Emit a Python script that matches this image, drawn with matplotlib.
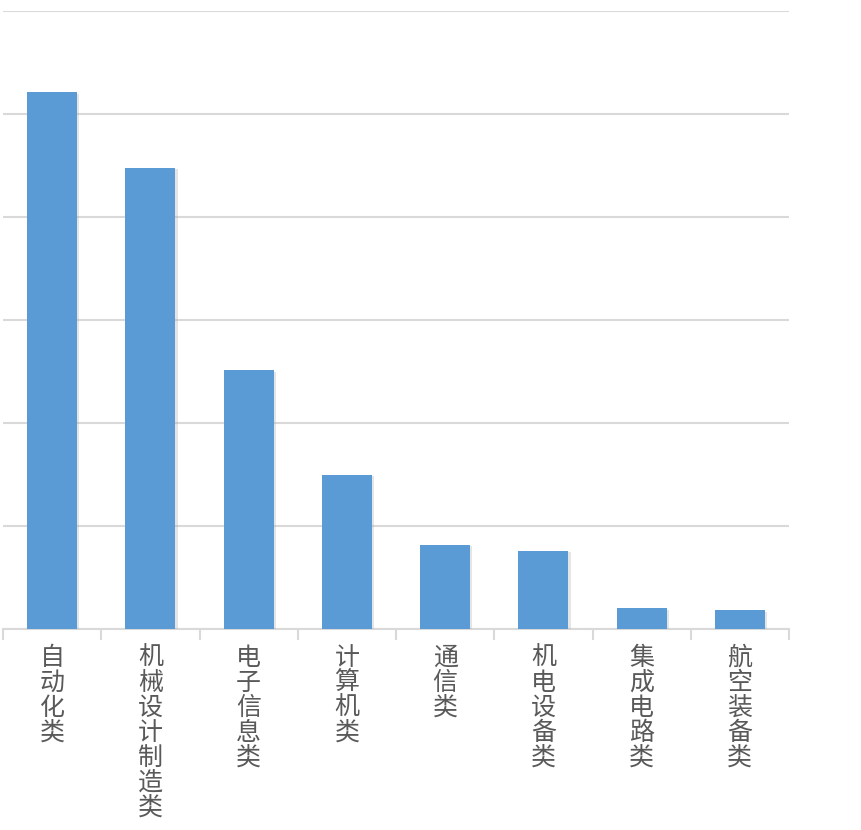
import matplotlib.pyplot as plt
import matplotlib.patheffects as pe
import numpy as np

plt.rcParams['font.family'] = ['Noto Sans CJK SC', 'DejaVu Sans']

categories = ["自动化类", "机械设计制造类", "电子信息类", "计算机类",
              "通信类", "机电设备类", "集成电路类", "航空装备类"]
values = [5.21, 4.48, 2.51, 1.50, 0.82, 0.76, 0.20, 0.18]

bar_color = "#5b9bd5"
grid_color = "#d9d9d9"
text_color = "#595959"

fig = plt.figure(figsize=(8.61, 8.30), dpi=100)
ax = fig.add_axes([3 / 861, 1 - 629 / 830, (789 - 3) / 861, (629 - 11) / 830])

x = np.arange(len(categories))
bars = ax.bar(x, values, width=0.51, color=bar_color, zorder=3)
for b in bars:
    b.set_path_effects([pe.SimplePatchShadow(offset=(1.5, -1), shadow_rgbFace="#aaaaaa", alpha=0.3),
                        pe.Normal()])

ax.set_xlim(-0.5, len(categories) - 0.5)
ax.set_ylim(0, 6)
ax.set_yticks(np.arange(0, 7, 1))
ax.yaxis.grid(True, color=grid_color, linewidth=1.5, zorder=0)
ax.tick_params(axis='y', length=0, labelleft=False)

for s in ["top", "right", "left"]:
    ax.spines[s].set_visible(False)
ax.spines["bottom"].set_color(grid_color)
ax.spines["bottom"].set_linewidth(1.5)

# category boundaries as small tick marks
ax.set_xticks(np.arange(-0.5, len(categories), 1))
ax.tick_params(axis='x', length=8, width=1.5, color=grid_color, labelbottom=False)

# stacked vertical labels
for i, name in enumerate(categories):
    ax.annotate("\n".join(name), xy=(i, 0), xycoords='data',
                xytext=(0, -16), textcoords='offset pixels',
                ha='center', va='top', fontsize=18, color=text_color,
                linespacing=0.95)

fig.savefig("out.png", dpi=100)
